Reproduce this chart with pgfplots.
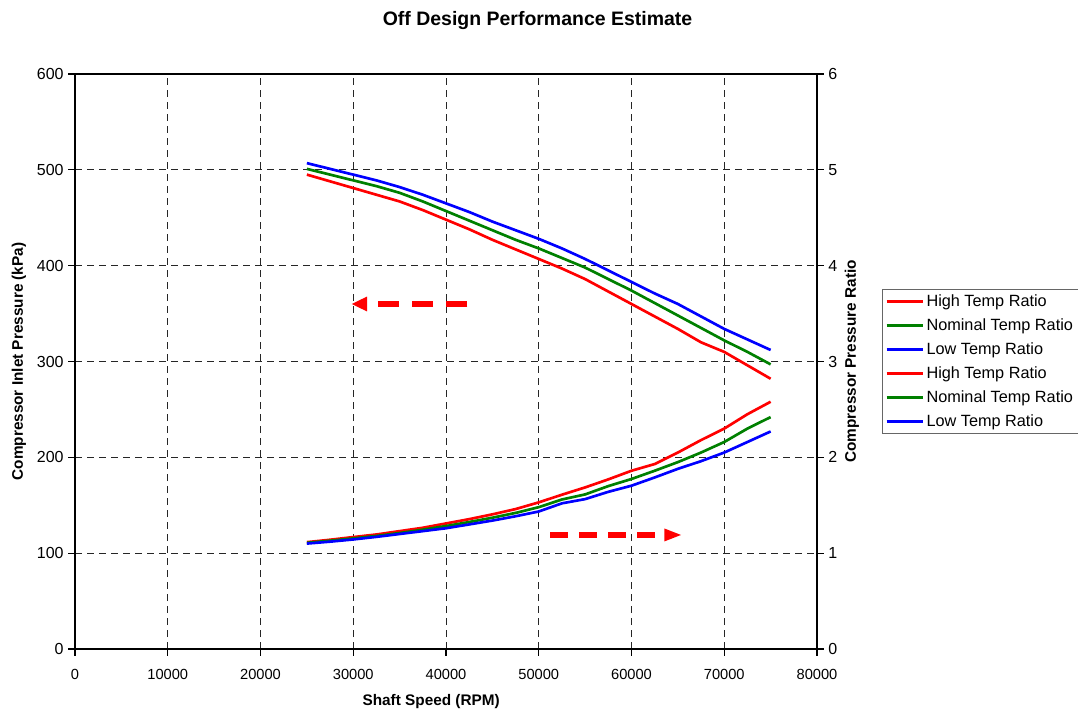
\documentclass[border=0pt]{standalone}
\usepackage{fontspec}
\setmainfont{Liberation Sans}
\usepackage{pgfplots}
\pgfplotsset{compat=1.18}
\usetikzlibrary{arrows.meta}

% inlet pressure (kPa) vs shaft speed
\pgfplotstableread{
rpm    high  nom   low
25000  495   501   507
27500  488   495   501
30000  481   489   495
32500  474   483   489
35000  467   476   482
37500  458   467   474
40000  448   457   465
42500  438   447   456
45000  427   437   446
47500  417   427   437
50000  407   418   428
52500  397   408   418
55000  386   398   407
57500  373   386   395
60000  360   374   383
62500  347   361   371
65000  334   348   360
67500  320   335   347
70000  310   322   334
72500  296   310   323
75000  282   297   312
}\pressure

% pressure ratio vs shaft speed
\pgfplotstableread{
rpm    high   nom    low
25000  1.115  1.108  1.100
27500  1.140  1.130  1.120
30000  1.168  1.154  1.143
32500  1.195  1.180  1.170
35000  1.230  1.210  1.200
37500  1.265  1.245  1.230
40000  1.310  1.283  1.260
42500  1.355  1.325  1.300
45000  1.405  1.370  1.340
47500  1.460  1.420  1.385
50000  1.530  1.480  1.435
52500  1.610  1.560  1.520
55000  1.686  1.613  1.564
57500  1.770  1.700  1.640
60000  1.860  1.774  1.704
62500  1.930  1.860  1.790
65000  2.050  1.950  1.880
67500  2.180  2.050  1.960
70000  2.300  2.160  2.050
72500  2.450  2.300  2.160
75000  2.580  2.420  2.270
}\ratio

\definecolor{xlgreen}{RGB}{0,128,0}

\pgfplotsset{
  base/.style={
    scale only axis, width=556.5pt, height=431.25pt,
    xmin=0, xmax=80000,
    scaled x ticks=false, scaled y ticks=false,
    /pgf/number format/1000 sep={},
    /pgf/number format/assume math mode=true,
    xticklabel style={font=\fontsize{11}{13}\selectfont, yshift=-7pt},
    yticklabel style={font=\fontsize{12}{14}\selectfont},
    label style={font=\fontsize{11.5}{14}\selectfont\bfseries},
    tick align=outside, major tick length=5pt,
    tick style={black, line width=0.8pt},
    axis line style={black, line width=1.3pt},
  },
}

\begin{document}
\begin{tikzpicture}
\useasboundingbox (-56.25pt,-46.5pt) rectangle (752.25pt,486.75pt);

\begin{axis}[base,
    ymin=0, ymax=600,
    xtick={0,10000,...,80000}, ytick={0,100,...,600},
    xtick pos=left, ytick pos=left,
    grid=major,
    major grid style={black!85, line width=0.6pt, dash pattern=on 5.5pt off 3.5pt},
    xlabel={Shaft Speed (RPM)},
    ylabel={Compressor Inlet Pressure (kPa)},
    xlabel style={at={(axis description cs:0.48,-0.0915)}, anchor=center},
    ylabel style={at={(axis description cs:-0.0755,0.5)}, anchor=center},
  ]
  \addplot[red, line width=2pt] table[x=rpm, y=high] {\pressure};
  \addplot[xlgreen, line width=2pt] table[x=rpm, y=nom] {\pressure};
  \addplot[blue, line width=2pt] table[x=rpm, y=low] {\pressure};

  \draw[red, line width=4.3pt, dash pattern=on 15.7pt off 10pt,
        -{Triangle[length=11.4pt, width=11.2pt, line width=0pt]}]
    (axis cs:42308,360) -- (axis cs:29846,360);
  \draw[red, line width=4pt, dash pattern=on 13.5pt off 8.25pt,
        -{Triangle[length=12.5pt, width=9.75pt, line width=0pt]}]
    (axis cs:51213,119) -- (axis cs:65337,119);
\end{axis}

\begin{axis}[base,
    ymin=0, ymax=6,
    ytick={0,1,...,6},
    axis y line*=right, axis x line=none,
    ylabel={Compressor Pressure Ratio},
    ylabel style={at={(axis description cs:1.047,0.5)}, anchor=center},
    legend style={at={(axis description cs:1.0876,0.626)}, anchor=north west,
      draw=black!60, line width=0.8pt, font=\fontsize{12.2}{14}\selectfont,
      row sep=3.6pt, inner sep=2pt},
    legend cell align=left,
    legend image code/.code={\draw[#1, line width=2pt] (0pt,0pt) -- (27pt,0pt);},
  ]
  \addlegendimage{red}
  \addlegendimage{xlgreen}
  \addlegendimage{blue}
  \addplot[red, line width=2pt] table[x=rpm, y=high] {\ratio};
  \addplot[xlgreen, line width=2pt] table[x=rpm, y=nom] {\ratio};
  \addplot[blue, line width=2pt] table[x=rpm, y=low] {\ratio};
  \legend{High Temp Ratio, Nominal Temp Ratio, Low Temp Ratio,
          High Temp Ratio, Nominal Temp Ratio, Low Temp Ratio}
\end{axis}

\node[font=\fontsize{14.6}{17}\selectfont\bfseries] at (346.9pt,471.5pt)
  {Off Design Performance Estimate};
\end{tikzpicture}
\end{document}
